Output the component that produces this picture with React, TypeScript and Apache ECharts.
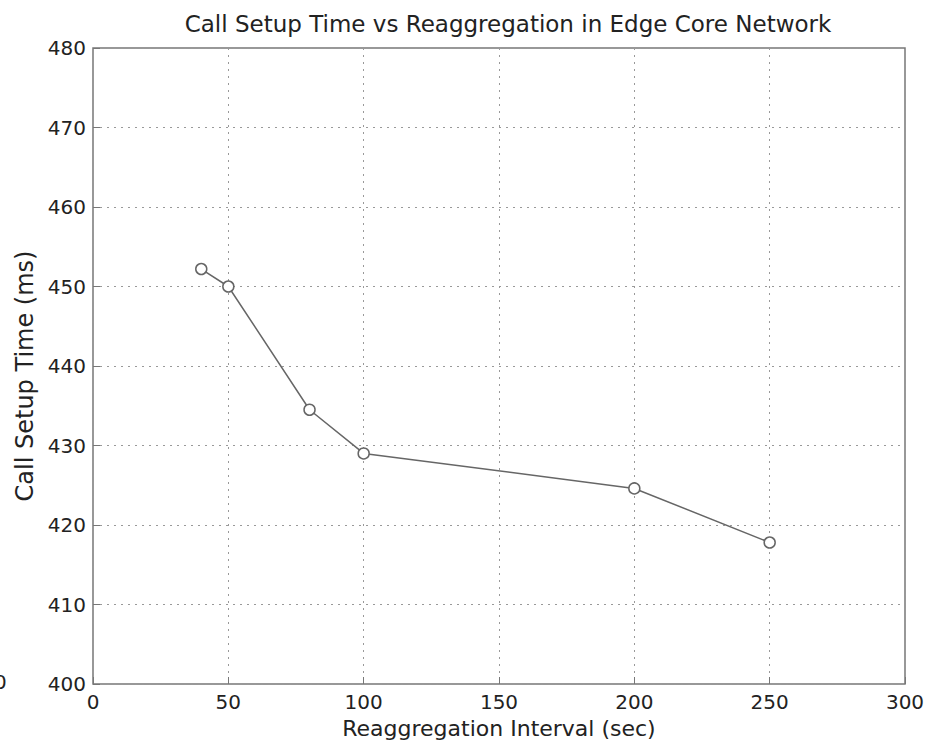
import React, { useEffect, useRef } from "react";
import * as echarts from "echarts";

const intervals = [40, 50, 80, 100, 200, 250];
const setupTimes = [452.2, 450.0, 434.5, 429.0, 424.6, 417.8];
const titleText = "Call Setup Time vs Reaggregation in Edge Core Network";
const xName = "Reaggregation Interval (sec)";
const yName = "Call Setup Time (ms)";

export default function App() {
  const ref = useRef<HTMLDivElement>(null);
  useEffect(() => {
    if (!ref.current) return;
    const chart = echarts.init(ref.current, null, { renderer: "svg" });
    const font = "DejaVu Sans, Liberation Sans, sans-serif";
    chart.setOption({
      animation: false,
      backgroundColor: "#fff",
      title: {
        text: titleText,
        left: 503,
        textAlign: "center",
        top: 7,
        textStyle: { fontFamily: font, fontSize: 23, fontWeight: "normal", color: "#222" },
      },
      grid: {
        left: 93,
        right: 33,
        top: 48,
        bottom: 63,
        outerBoundsMode: "none",
        containLabel: false,
        show: true,
        borderColor: "#777",
        borderWidth: 1.5,
        backgroundColor: "transparent",
      },
      xAxis: {
        type: "value",
        min: 0,
        max: 300,
        interval: 50,
        name: xName,
        nameLocation: "middle",
        nameGap: 33,
        nameTextStyle: { fontFamily: font, fontSize: 22, color: "#222" },
        axisLine: { show: false },
        axisTick: { show: true, inside: true, length: 7, lineStyle: { color: "#777" } },
        axisLabel: { fontFamily: font, fontSize: 20, color: "#222", margin: 8 },
        splitLine: { show: true, lineStyle: { color: "#999", type: [2, 5], width: 1 } },
      },
      yAxis: {
        type: "value",
        min: 400,
        max: 480,
        interval: 10,
        name: yName,
        nameLocation: "middle",
        nameGap: 53,
        nameTextStyle: { fontFamily: font, fontSize: 24, color: "#222", padding: [0, 20, 0, 0] },
        axisLine: { show: false },
        axisTick: { show: true, inside: true, length: 7, lineStyle: { color: "#777" } },
        axisLabel: { fontFamily: font, fontSize: 20, color: "#222", margin: 7 },
        splitLine: { show: true, lineStyle: { color: "#999", type: [2, 5], width: 1 } },
      },
      graphic: [
        {
          type: "text",
          left: -6,
          top: 672,
          style: { text: "0", fontFamily: font, fontSize: 20, fill: "#222" },
        },
      ],
      series: [
        {
          type: "line",
          data: intervals.map((x, i) => [x, setupTimes[i]]),
          symbol: "circle",
          symbolSize: 11,
          showSymbol: true,
          lineStyle: { color: "#666", width: 1.5 },
          itemStyle: { color: "#fff", borderColor: "#666", borderWidth: 1.5 },
        },
      ],
    });
    return () => chart.dispose();
  }, []);
  return (
    <div
      ref={ref}
      style={{ position: "fixed", left: 0, top: 0, width: 938, height: 747 }}
    />
  );
}
